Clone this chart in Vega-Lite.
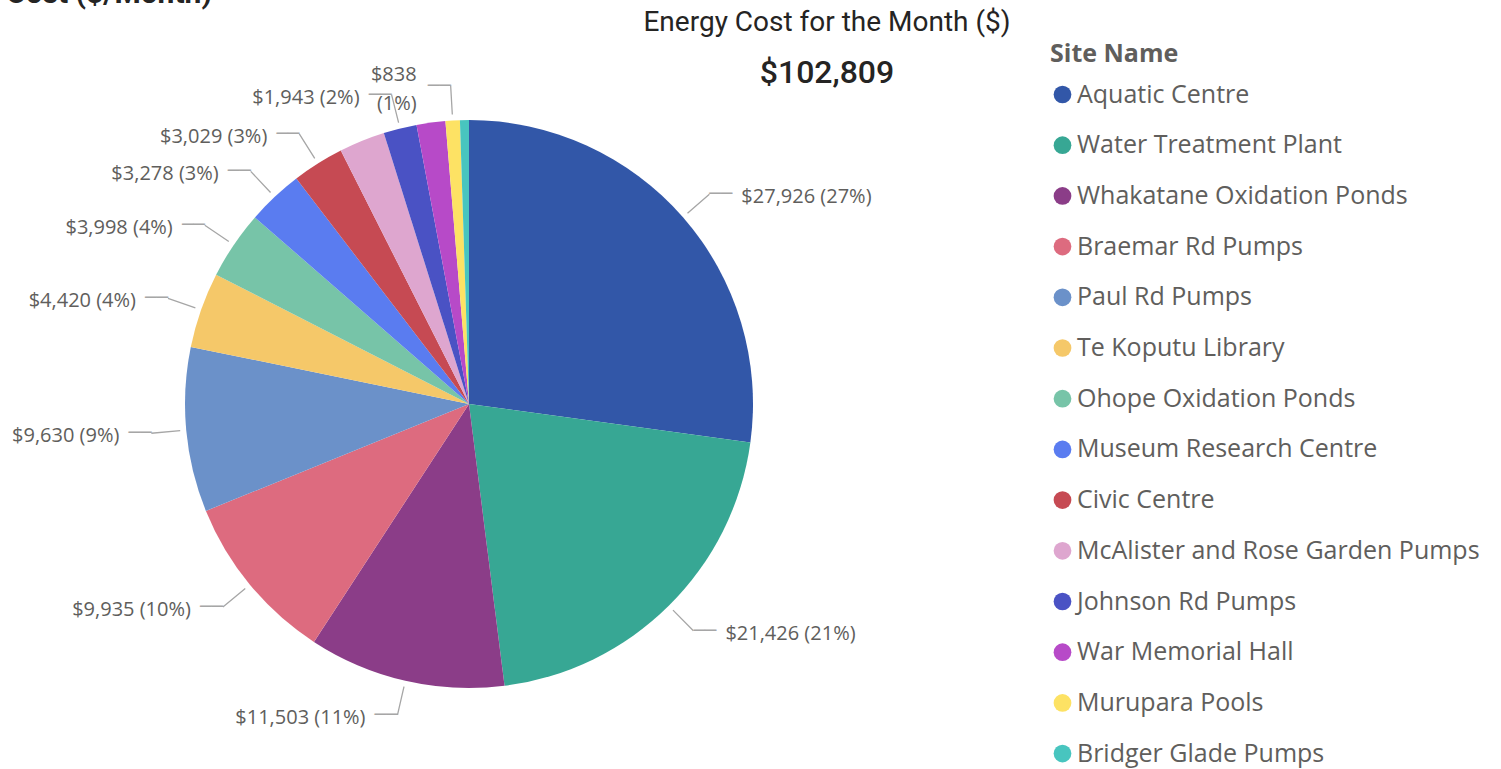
{
  "$schema": "https://vega.github.io/schema/vega-lite/v6.json",
  "autosize": {"type": "none"},
  "padding": {"left": 159, "top": 94, "right": 1342, "bottom": 675},
  "background": "white",
  "config": {"view": {"stroke": null}},
  "title": {"text": "Cost ($/Month)", "anchor": "start", "frame": "group", "font": "Roboto", "fontSize": 30, "fontWeight": "bold", "color": "#252423", "baseline": "alphabetic", "offset": -24, "dx": -153},
  "hconcat": [
    {
      "width": 620,
      "height": 620,
      "title": {"text": "Energy Cost for the Month ($)", "subtitle": "$102,809", "anchor": "middle", "frame": "group", "dx": 358, "offset": -25, "font": "Roboto", "fontSize": 28, "fontWeight": "normal", "color": "#252423", "subtitleFont": "Roboto", "subtitleFontSize": 32, "subtitleFontWeight": 500, "subtitleColor": "#252423", "subtitlePadding": 21},
      "data": {"values": [
        {"site": "Aquatic Centre", "cost": 27926},
        {"site": "Water Treatment Plant", "cost": 21426},
        {"site": "Whakatane Oxidation Ponds", "cost": 11503},
        {"site": "Braemar Rd Pumps", "cost": 9935},
        {"site": "Paul Rd Pumps", "cost": 9630},
        {"site": "Te Koputu Library", "cost": 4420},
        {"site": "Ohope Oxidation Ponds", "cost": 3998},
        {"site": "Museum Research Centre", "cost": 3278},
        {"site": "Civic Centre", "cost": 3029},
        {"site": "McAlister and Rose Garden Pumps", "cost": 2680},
        {"site": "Johnson Rd Pumps", "cost": 1943},
        {"site": "War Memorial Hall", "cost": 1680},
        {"site": "Murupara Pools", "cost": 838},
        {"site": "Bridger Glade Pumps", "cost": 523}
      ]},
      "transform": [
        {"joinaggregate": [{"op": "sum", "field": "cost", "as": "total"}]},
        {"window": [{"op": "sum", "field": "cost", "as": "cum"}], "sort": [{"field": "cost", "order": "descending"}], "frame": [null, 0]},
        {"calculate": "'$' + format(datum.cost, ',') + (datum.cost < 1000 ? '\\n' : ' ') + '(' + format(datum.cost / datum.total, '.0%') + ')'", "as": "label"}
      ],
      "layer": [
        {
          "mark": {"type": "arc", "outerRadius": 284},
          "encoding": {
            "theta": {"field": "cost", "type": "quantitative", "stack": true},
            "order": {"field": "cost", "type": "quantitative", "sort": "descending"},
            "color": {
              "field": "site", "type": "nominal",
              "scale": {
                "domain": ["Aquatic Centre", "Water Treatment Plant", "Whakatane Oxidation Ponds", "Braemar Rd Pumps", "Paul Rd Pumps", "Te Koputu Library", "Ohope Oxidation Ponds", "Museum Research Centre", "Civic Centre", "McAlister and Rose Garden Pumps", "Johnson Rd Pumps", "War Memorial Hall", "Murupara Pools", "Bridger Glade Pumps"],
                "range": ["#3257A8", "#37A794", "#8B3D88", "#DD6B7F", "#6B91C9", "#F5C869", "#77C4A8", "#5A7CF0", "#C64A53", "#DEA6CF", "#4A52C4", "#B74AC8", "#FDE264", "#48C5BF"]
              },
              "legend": {
                "title": "Site Name", "orient": "none", "legendX": 891, "legendY": -52,
                "titleFont": "Open Sans", "titleFontSize": 25, "titleFontWeight": "bold", "titleColor": "#605E5C", "titlePadding": 15,
                "labelFont": "Open Sans", "labelFontSize": 25, "labelColor": "#605E5C", "labelLimit": 600, "labelOffset": 2,
                "symbolType": "circle", "symbolSize": 314, "symbolStrokeWidth": 0, "rowPadding": 24.7
              }
            }
          }
        },
        {
          "mark": {"type": "arc", "innerRadius": 290, "outerRadius": 319, "padAngle": 3, "filled": false, "stroke": "#A6A6A6", "strokeWidth": 1.3},
          "encoding": {
            "theta": {"field": "cost", "type": "quantitative", "stack": true},
            "order": {"field": "cost", "type": "quantitative", "sort": "descending"},
            "strokeOpacity": {"condition": {"test": "indexof(['McAlister and Rose Garden Pumps','War Memorial Hall','Bridger Glade Pumps'], datum.site) >= 0", "value": 0}, "value": 1}
          }
        },
        {
          "mark": {"type": "text", "radius": 319, "align": "left", "baseline": "middle", "font": "DejaVu Sans Mono", "fontSize": 19, "color": "#A6A6A6"},
          "encoding": {
            "theta": {"field": "cost", "type": "quantitative", "stack": true},
            "order": {"field": "cost", "type": "quantitative", "sort": "descending"},
            "text": {"condition": {"test": "indexof(['McAlister and Rose Garden Pumps','War Memorial Hall','Bridger Glade Pumps'], datum.site) < 0 && datum.cum - datum.cost / 2 < datum.total / 2", "value": "──"}, "value": ""}
          }
        },
        {
          "mark": {"type": "text", "radius": 319, "align": "right", "baseline": "middle", "font": "DejaVu Sans Mono", "fontSize": 19, "color": "#A6A6A6"},
          "encoding": {
            "theta": {"field": "cost", "type": "quantitative", "stack": true},
            "order": {"field": "cost", "type": "quantitative", "sort": "descending"},
            "text": {"condition": {"test": "indexof(['McAlister and Rose Garden Pumps','War Memorial Hall','Bridger Glade Pumps'], datum.site) < 0 && datum.cum - datum.cost / 2 >= datum.total / 2", "value": "──"}, "value": ""}
          }
        },
        {
          "mark": {"type": "text", "radius": 319, "align": "left", "baseline": "middle", "dx": 32, "dy": 3, "font": "Open Sans", "fontSize": 20, "color": "#605E5C"},
          "encoding": {
            "theta": {"field": "cost", "type": "quantitative", "stack": true},
            "order": {"field": "cost", "type": "quantitative", "sort": "descending"},
            "text": {"condition": {"test": "indexof(['McAlister and Rose Garden Pumps','War Memorial Hall','Bridger Glade Pumps'], datum.site) < 0 && datum.cum - datum.cost / 2 < datum.total / 2", "field": "label"}, "value": ""}
          }
        },
        {
          "mark": {"type": "text", "radius": 319, "align": "right", "baseline": "middle", "dx": -32, "dy": 3, "font": "Open Sans", "fontSize": 20, "color": "#605E5C"},
          "encoding": {
            "theta": {"field": "cost", "type": "quantitative", "stack": true},
            "order": {"field": "cost", "type": "quantitative", "sort": "descending"},
            "text": {"condition": {"test": "indexof(['McAlister and Rose Garden Pumps','War Memorial Hall','Bridger Glade Pumps'], datum.site) < 0 && datum.cost >= 1000 && datum.cum - datum.cost / 2 >= datum.total / 2", "field": "label"}, "value": ""}
          }
        },
        {
          "mark": {"type": "text", "radius": 319, "align": "right", "baseline": "middle", "dx": -34, "dy": -11, "font": "Open Sans", "fontSize": 20, "color": "#605E5C", "lineBreak": "\n", "lineHeight": 29},
          "encoding": {
            "theta": {"field": "cost", "type": "quantitative", "stack": true},
            "order": {"field": "cost", "type": "quantitative", "sort": "descending"},
            "text": {"condition": {"test": "indexof(['McAlister and Rose Garden Pumps','War Memorial Hall','Bridger Glade Pumps'], datum.site) < 0 && datum.cost < 1000", "field": "label"}, "value": ""}
          }
        }
      ]
    }
  ]
}
